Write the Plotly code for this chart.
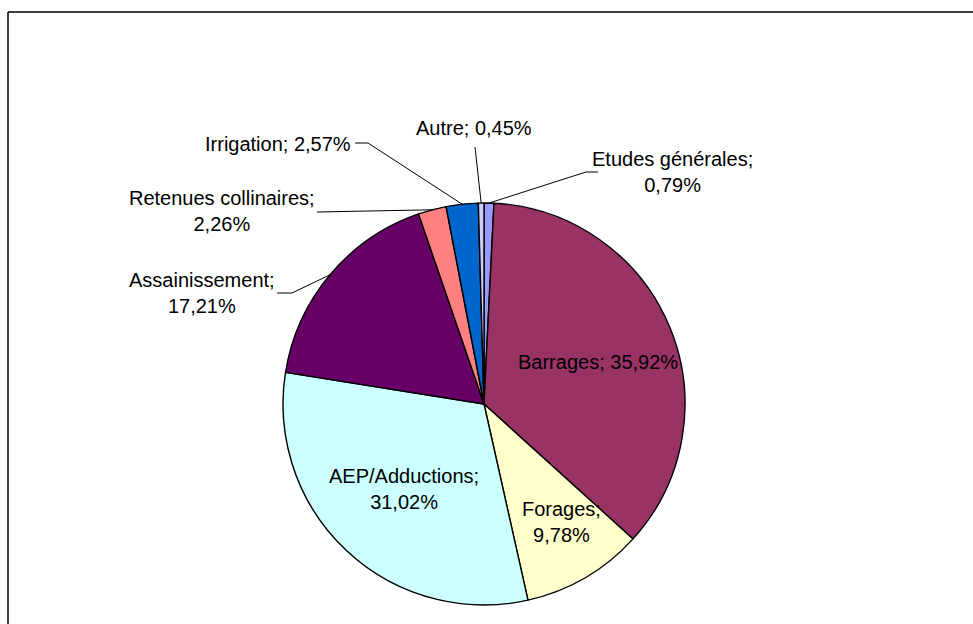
import math
import plotly.graph_objects as go

# Slice data, in drawing order (clockwise from 12 o'clock)
labels = ["Etudes générales", "Barrages", "Forages", "AEP/Adductions",
          "Assainissement", "Retenues collinaires", "Irrigation", "Autre"]
shares = [0.79, 35.92, 9.78, 31.02, 17.21, 2.26, 2.57, 0.45]
colors = ["#9999FF", "#993366", "#FFFFCC", "#CCFFFF",
          "#660066", "#FF8080", "#0066CC", "#CCCCFF"]

W, H = 973, 624
CX, CY, R = 484, 404, 201
FONT = dict(family="Liberation Sans, Arial, sans-serif", size=20, color="black")


def fx(px):
    return px / W


def fy(py):
    return 1 - py / H


def pct(v):
    return f"{v:.2f}".replace(".", ",") + "%"


# Label placement: centre (or anchor) of the text block, line break, leader path
label_layout = {
    "Etudes générales": dict(x=672, y=172, brk=True, anchor="center",
                             leader=[(598, 172), (586, 172)]),
    "Barrages": dict(x=598, y=362, brk=False, anchor="center", leader=None),
    "Forages": dict(x=561, y=522, brk=True, anchor="center", leader=None),
    "AEP/Adductions": dict(x=404, y=489, brk=True, anchor="center", leader=None),
    "Assainissement": dict(x=202, y=293, brk=True, anchor="center",
                           leader=[(277, 293), (292, 293)]),
    "Retenues collinaires": dict(x=222, y=211, brk=True, anchor="center",
                                 leader=[(317, 212)]),
    "Irrigation": dict(x=353, y=144, brk=False, anchor="right",
                       leader=[(355, 143), (368, 143)]),
    "Autre": dict(x=474, y=128, brk=False, anchor="center",
                  leader=[(475, 147)]),
}

fig = go.Figure(go.Pie(
    labels=labels,
    values=shares,
    sort=False,
    direction="clockwise",
    rotation=0,
    marker=dict(colors=colors, line=dict(color="black", width=1.4)),
    textinfo="none",
    hoverinfo="label+percent",
    showlegend=False,
    domain=dict(x=[fx(CX - R), fx(CX + R)], y=[fy(CY + R), fy(CY - R)]),
))

annotations = []
shapes = []
total = sum(shares)
cum = 0.0
for name, v in zip(labels, shares):
    mid = (cum + v / 2) / total * 2 * math.pi
    cum += v
    rim = (CX + R * math.sin(mid), CY - R * math.cos(mid))
    lay = label_layout[name]
    sep = ";<br>" if lay["brk"] else "; "
    annotations.append(dict(
        x=fx(lay["x"]), y=fy(lay["y"]), xref="paper", yref="paper",
        text=name + sep + pct(v), showarrow=False, font=FONT, align="center",
        xanchor=lay["anchor"], yanchor="middle",
    ))
    if lay["leader"]:
        pts = lay["leader"] + [rim]
        path = "M " + " L ".join(f"{fx(px)},{fy(py)}" for px, py in pts)
        shapes.append(dict(type="path", path=path, xref="paper", yref="paper",
                           line=dict(color="black", width=1)))

# Chart frame: only the top and left edges fall inside the page
shapes.append(dict(type="line", xref="paper", yref="paper",
                   x0=fx(8), y0=fy(12), x1=fx(W), y1=fy(12),
                   line=dict(color="black", width=1.5), layer="below"))
shapes.append(dict(type="line", xref="paper", yref="paper",
                   x0=fx(8), y0=fy(12), x1=fx(8), y1=fy(H),
                   line=dict(color="black", width=1.5), layer="below"))

fig.update_layout(
    width=W, height=H,
    margin=dict(l=0, r=0, t=0, b=0),
    paper_bgcolor="white", plot_bgcolor="white",
    annotations=annotations, shapes=shapes,
)

fig.write_html("out.html", config={"displayModeBar": False})
